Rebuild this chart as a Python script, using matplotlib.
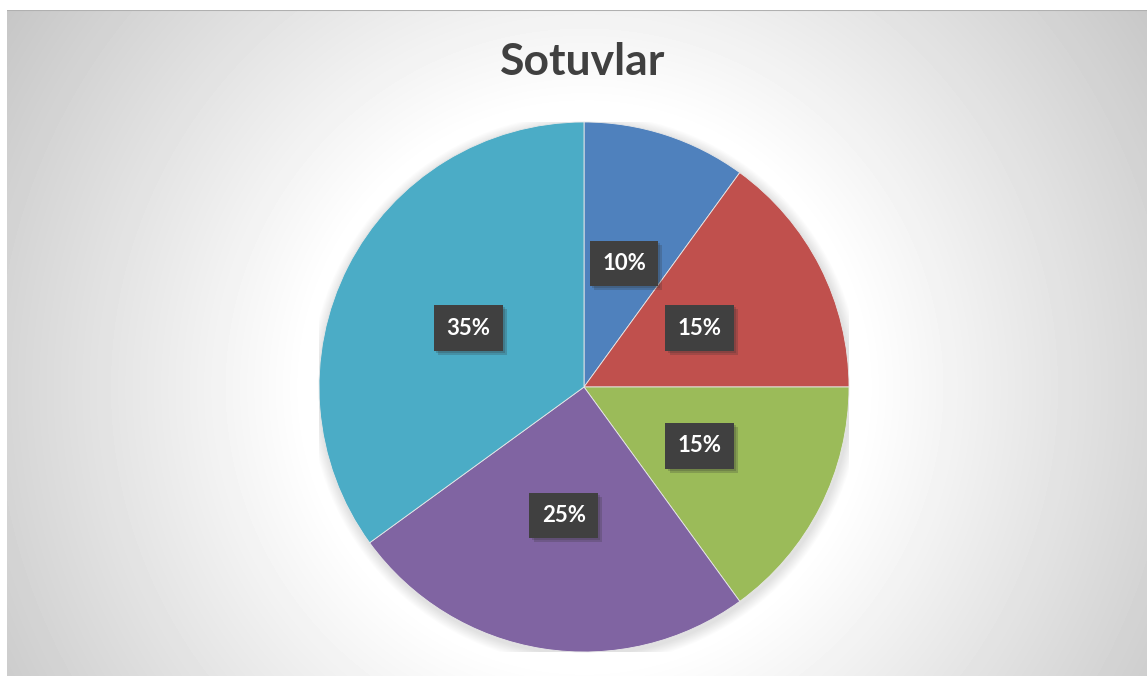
import matplotlib
matplotlib.use('Agg')
import matplotlib.pyplot as plt
import matplotlib.patheffects as pe
import numpy as np


# %%  Data

categories = ['A', 'B', 'C', 'D', 'E']
shares     = [10, 15, 15, 25, 35]
colors     = ['#4F81BD', '#C0504D', '#9BBB59', '#8064A2', '#4BACC6']
title      = 'Sotuvlar'


# %%  Figure

plt.rcParams['hatch.color'] = '#4E4E4E'
plt.rcParams['hatch.linewidth'] = 1.2

W, H = 1147, 676
fig = plt.figure(figsize=(W / 100, H / 100), dpi=100)
fig.patch.set_facecolor('white')

# background panel with radial gradient (white centre -> grey corners)
x0, y0 = 7, 10
bg = fig.add_axes([x0 / W, 0, 1 - x0 / W, (H - y0) / H])
xx, yy = np.meshgrid(np.arange(x0, W), np.arange(y0, H))
r = np.hypot(xx - 584, yy - 387)
val = np.clip(255 - np.clip(r - 280, 0, None) * 0.139, 190, 255) / 255
bg.imshow(val, cmap='gray', vmin=0, vmax=1, aspect='auto', interpolation='bilinear')
bg.axhline(-0.5, color='#B0B0B0', lw=1.5)
bg.set_axis_off()

# pie axes: centre (584, 387) px, radius 265 px
cx, cy, R = 584, H - 387, 265
ax = fig.add_axes([(cx - R) / W, (cy - R) / H, 2 * R / W, 2 * R / H])
ax.set_facecolor('none')

# soft shadow round the pie
for k in range(10):
    ax.add_patch(plt.Circle((0.005, -0.01), 1 + 0.004 * (k + 1), color='#808080',
                            alpha=0.025, lw=0, zorder=0))

wedges, texts, autotexts = ax.pie(
    shares, colors=colors, startangle=90, counterclock=False,
    autopct='%d%%', pctdistance=0.49, radius=1,
    wedgeprops=dict(edgecolor='#E8E8E8', linewidth=0.6),
    textprops=dict(family='Lato', fontweight='bold', fontsize=16, color='white'))

for t in autotexts:
    t.set_bbox(dict(boxstyle='square,pad=0.55', facecolor='#404040',
                    edgecolor='none', hatch='..'))
    bp = t.get_bbox_patch()
    bp.set_path_effects([pe.SimplePatchShadow(offset=(3, -3), shadow_rgbFace='#303030', alpha=0.22),
                         pe.SimplePatchShadow(offset=(1.5, -1.5), shadow_rgbFace='#303030', alpha=0.22),
                         pe.Normal()])

ax.set_xlim(-1, 1)
ax.set_ylim(-1, 1)
ax.set_aspect('equal')
ax.set_axis_off()

fig.text(583 / W, 1 - 62 / H, title, ha='center', va='center',
         family='Lato', fontweight='bold', fontsize=32, color='#404040')

fig.savefig('out.png', dpi=100)
